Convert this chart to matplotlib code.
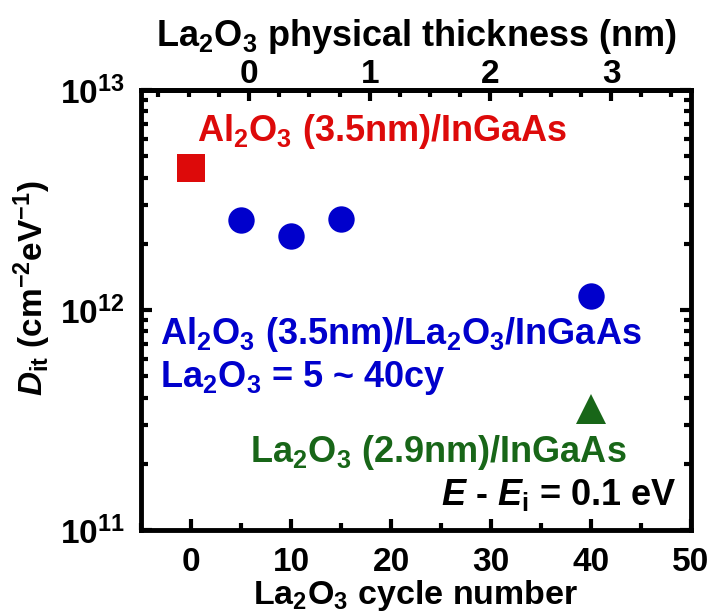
import matplotlib
matplotlib.use("Agg")
from matplotlib import pyplot as plt
from matplotlib.ticker import MultipleLocator, LogLocator, NullFormatter

plt.rcParams['font.family'] = ['Liberation Sans', 'DejaVu Sans']
plt.rcParams['font.weight'] = 'bold'
plt.rcParams['axes.labelweight'] = 'bold'
plt.rcParams['mathtext.fontset'] = 'custom'
plt.rcParams['mathtext.rm'] = 'Liberation Sans:bold'
plt.rcParams['mathtext.it'] = 'Liberation Sans:bold:italic'
plt.rcParams['mathtext.bf'] = 'Liberation Sans:bold'
plt.rcParams['mathtext.default'] = 'rm'

# Dit at E - Ei = 0.1 eV for each gate stack
al2o3_cycles = [0]
al2o3_dit = [4.4e12]
stack_cycles = [5, 10, 15, 40]
stack_dit = [2.57e12, 2.17e12, 2.58e12, 1.16e12]
la2o3_cycles = [40]
la2o3_dit = [3.55e11]

bottom_ticks = [0, 10, 20, 30, 40, 50]
top_ticks = [0, 1, 2, 3]

# ALD cycles <-> La2O3 thickness (nm)
NM_OFFSET = 5.8
CYC_PER_NM = 12.07


def cyc2nm(c):
    return (c - NM_OFFSET) / CYC_PER_NM


def nm2cyc(t):
    return t * CYC_PER_NM + NM_OFFSET


RED = '#dd0a0a'
BLUE = '#0000cc'
GREEN = '#186618'

fig = plt.figure(figsize=(7.14, 6.15), dpi=100)
ax = fig.add_axes([0.1975, 0.1382, 0.7703, 0.7155])

ax.plot(al2o3_cycles, al2o3_dit, 's', color=RED, ms=20.5, mew=0)
ax.plot(stack_cycles, stack_dit, 'o', color=BLUE, ms=19, mew=0)
ax.plot(la2o3_cycles, la2o3_dit, '^', color=GREEN, ms=21, mew=0)

ax.set_yscale('log')
ax.set_xlim(-5, 50)
ax.set_ylim(1e11, 1e13)
ax.set_xticks(bottom_ticks)
ax.xaxis.set_minor_locator(MultipleLocator(5))
ax.yaxis.set_major_locator(LogLocator(base=10))
ax.yaxis.set_minor_locator(LogLocator(base=10, subs=range(2, 10)))
ax.yaxis.set_minor_formatter(NullFormatter())

for s in ax.spines.values():
    s.set_linewidth(3.5)
ax.tick_params(which='major', direction='in', length=8, width=3,
               top=False, right=True, labelsize=24, pad=12)
ax.tick_params(which='minor', direction='in', length=5, width=3,
               top=False, right=True)

ax.set_xlabel('La$_2$O$_3$ cycle number', fontsize=24.5, labelpad=0)
ax.set_ylabel('$\\mathit{D}_{\\mathrm{it}}$ (cm$^{-2}$eV$^{-1}$)', fontsize=24)
ax.yaxis.set_label_coords(-0.16, 0.55)

# thickness scale along the top edge
top = ax.secondary_xaxis('top', functions=(cyc2nm, nm2cyc))
top.set_xticks(top_ticks)
top.xaxis.set_minor_locator(MultipleLocator(0.25))
top.spines['top'].set_linewidth(3.5)
top.tick_params(which='major', direction='in', length=8, width=3,
                labelsize=24, pad=0)
top.tick_params(which='minor', direction='in', length=5, width=3)
top.set_xlabel('La$_2$O$_3$ physical thickness (nm)', fontsize=26, labelpad=9)

ax.text(0.6, 6.5e12, 'Al$_2$O$_3$ (3.5nm)/InGaAs', color=RED,
        fontsize=26, ha='left', va='center')
ax.text(-3.1, 7.7e11, 'Al$_2$O$_3$ (3.5nm)/La$_2$O$_3$/InGaAs', color=BLUE,
        fontsize=26, ha='left', va='center')
ax.text(-3.1, 4.9e11, 'La$_2$O$_3$ = 5 ~ 40cy', color=BLUE,
        fontsize=26, ha='left', va='center')
ax.text(5.9, 2.26e11, 'La$_2$O$_3$ (2.9nm)/InGaAs', color=GREEN,
        fontsize=26, ha='left', va='center')
ax.text(48.6, 1.45e11, '$\\mathit{E}$ - $\\mathit{E}_{\\mathrm{i}}$ = 0.1 eV',
        color='black', fontsize=26, ha='right', va='center')

fig.savefig('out.png', dpi=100)
